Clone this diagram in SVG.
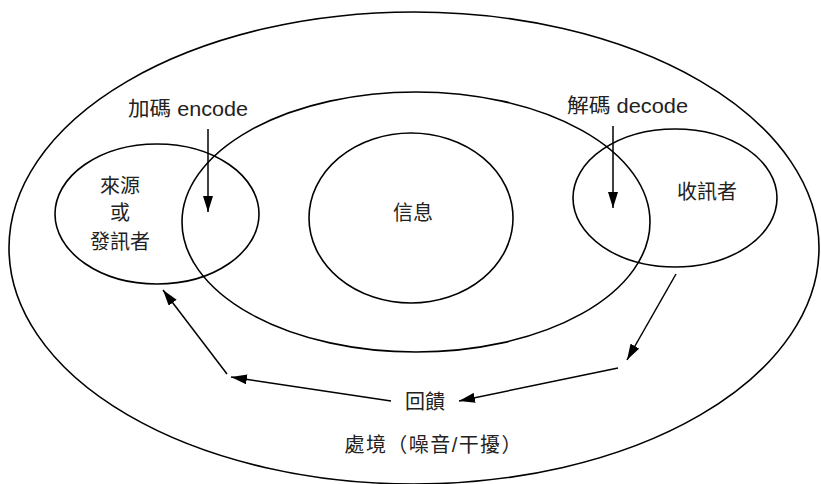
<svg xmlns="http://www.w3.org/2000/svg" width="821" height="484" viewBox="0 0 821 484">
<style>
.shape{fill:none;stroke:#000;stroke-width:1.6}
.conn{fill:none;stroke:#000;stroke-width:1.5}
.t{font-family:"Liberation Sans","Noto Sans CJK TC",sans-serif;font-size:20px;fill:#222}
.c{text-anchor:middle;dominant-baseline:central}
</style>
<defs>
<marker id="arr" viewBox="0 0 16 10" refX="16" refY="5" markerWidth="16" markerHeight="10" markerUnits="userSpaceOnUse" orient="auto">
<path d="M0,0 L16,5 L0,10 Z" fill="#000"/>
</marker>
</defs>
<rect width="821" height="484" fill="#fff"/>
<g id="environment">
<ellipse class="shape" cx="414" cy="248" rx="405" ry="236"/>
<text class="t c" x="433" y="445" textLength="177" lengthAdjust="spacing">處境（噪音/干擾）</text>
</g>
<g id="channel">
<ellipse class="shape" cx="416" cy="222" rx="234" ry="130"/>
</g>
<g id="message">
<ellipse class="shape" cx="411" cy="218" rx="102" ry="85"/>
<text class="t c" x="413" y="213">信息</text>
</g>
<g id="source">
<ellipse class="shape" cx="157" cy="214" rx="102" ry="70"/>
<text class="t c" x="120" y="186">來源</text>
<text class="t c" x="120" y="213">或</text>
<text class="t c" x="120" y="242">發訊者</text>
</g>
<g id="receiver">
<ellipse class="shape" cx="675" cy="198" rx="102" ry="69"/>
<text class="t c" x="707" y="192">收訊者</text>
</g>
<g id="encode">
<text class="t" x="128" y="116" font-size="21" textLength="120" lengthAdjust="spacingAndGlyphs">加碼 encode</text>
</g>
<g id="decode">
<text class="t" x="567" y="113" font-size="21" textLength="121" lengthAdjust="spacingAndGlyphs">解碼 decode</text>
</g>
<g id="feedback">
<text class="t c" x="425" y="402">回饋</text>
</g>
<g id="connectors">
<line class="conn" x1="208" y1="129" x2="208" y2="212" marker-end="url(#arr)"/>
<line class="conn" x1="613" y1="126" x2="613" y2="208" marker-end="url(#arr)"/>
<line class="conn" x1="676" y1="274" x2="627" y2="360" marker-end="url(#arr)"/>
<line class="conn" x1="618" y1="368" x2="459" y2="401" marker-end="url(#arr)"/>
<line class="conn" x1="391" y1="401" x2="231" y2="377" marker-end="url(#arr)"/>
<line class="conn" x1="227" y1="374" x2="163" y2="290" marker-end="url(#arr)"/>
</g>
</svg>
